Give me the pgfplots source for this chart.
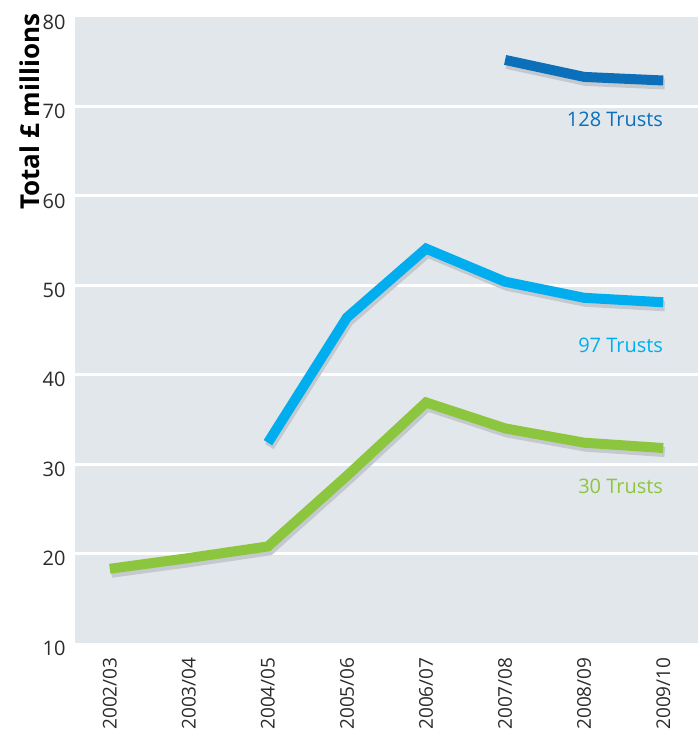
\documentclass[border=0pt]{standalone}
\usepackage{fontspec}
\setmainfont{Open Sans}
\usepackage{pgfplots}
\usepackage{pgfplotstable}
\pgfplotsset{compat=1.18}
\definecolor{bg}{HTML}{E2E7EB}
\definecolor{darkblue}{HTML}{0B6FBA}
\definecolor{lightblue}{HTML}{00AEEF}
\definecolor{lgreen}{HTML}{8CC63F}
\definecolor{shadowgray}{HTML}{C3C9CE}
\definecolor{ticktext}{HTML}{2B2B2B}

\pgfplotstableread{
x y
0 18.3
1 19.5
2 20.8
3 28.7
4 36.9
5 34.0
6 32.4
7 31.8
}\thirty
\pgfplotstableread{
x y
2 32.4
3 46.4
4 54.1
5 50.4
6 48.6
7 48.1
}\ninetyseven
\pgfplotstableread{
x y
5 75.2
6 73.3
7 72.9
}\onetwoeight

\begin{document}
\begin{tikzpicture}
\begin{axis}[
    width=623pt, height=626pt, scale only axis,
    xmin=-0.44, xmax=7.44, ymin=10, ymax=80,
    axis line style={draw=none},
    major tick length=0pt,
    axis background/.style={fill=bg},
    ytick={10,20,...,80},
    extra y ticks={20,30,...,70},
    extra y tick labels={},
    extra y tick style={grid=major, grid style={white, line width=3pt}},
    xtick={0,...,7},
    xticklabels={2002/03,2003/04,2004/05,2005/06,2006/07,2007/08,2008/09,2009/10},
    x tick label style={rotate=90, anchor=east, font=\fontsize{19}{22}\selectfont, text=ticktext},
    xticklabel shift=11pt,
    y tick label style={font=\fontsize{20}{24}\selectfont, text=ticktext, yshift=-5pt},
    yticklabel shift=6pt,
    /pgf/number format/assume math mode=true,
    ylabel={Total £ millions},
    ylabel style={font=\fontsize{26}{30}\selectfont\bfseries, text=black,
      at={(axis description cs:-0.0722,1.011)}, anchor=east},
]
% shadows
\addplot[draw=shadowgray, line width=10pt, xshift=1.5pt, yshift=-4pt, forget plot] table {\thirty};
\addplot[draw=shadowgray, line width=10pt, xshift=1.5pt, yshift=-4pt, forget plot] table {\ninetyseven};
\addplot[draw=shadowgray, line width=10pt, xshift=1.5pt, yshift=-4pt, forget plot] table {\onetwoeight};
% lines
\addplot[draw=lgreen, line width=10pt] table {\thirty};
\addplot[draw=lightblue, line width=10pt] table {\ninetyseven};
\addplot[draw=darkblue, line width=10pt] table {\onetwoeight};

\node[anchor=east, text=darkblue, font=\fontsize{20}{24}\selectfont, inner sep=0pt] at (axis cs:7.0,68.5) {128 Trusts};
\node[anchor=east, text=lightblue, font=\fontsize{20}{24}\selectfont, inner sep=0pt] at (axis cs:7.0,43.3) {97 Trusts};
\node[anchor=east, text=lgreen, font=\fontsize{20}{24}\selectfont, inner sep=0pt] at (axis cs:7.0,27.5) {30 Trusts};
\end{axis}
\pgfresetboundingbox
\useasboundingbox (-75pt,-93pt) rectangle (623pt,643pt);
\end{tikzpicture}
\end{document}
